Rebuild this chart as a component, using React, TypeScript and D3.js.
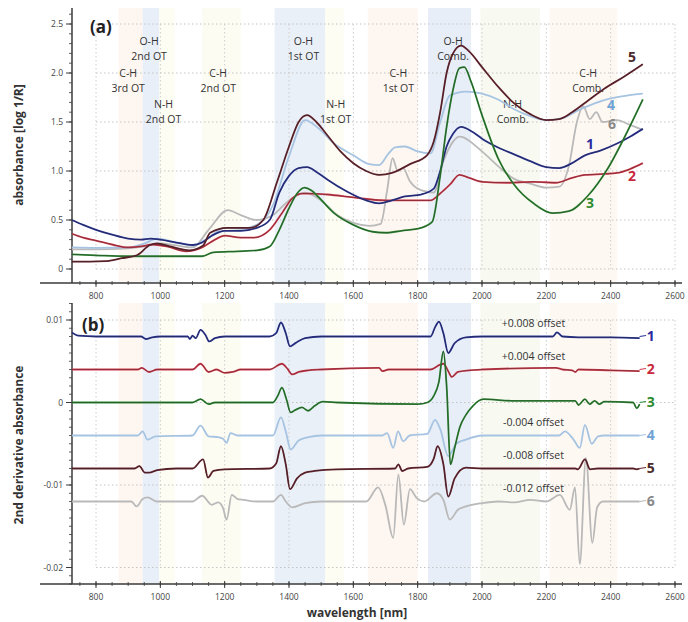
import React from "react";
import * as d3 from "d3";

// NIR spectra (absorbance, log 1/R)
const spec1 = [[725,0.5],[760,0.45],[800,0.4],[850,0.35],[900,0.31],[940,0.3],[970,0.31],[1000,0.3],[1050,0.27],[1100,0.245],[1130,0.27],[1160,0.34],[1200,0.39],[1250,0.39],[1300,0.42],[1340,0.5],[1370,0.78],[1400,0.95],[1430,1.03],[1456,1.04],[1490,0.98],[1520,0.91],[1580,0.79],[1640,0.7],[1680,0.67],[1720,0.7],[1760,0.74],[1810,0.76],[1850,0.82],[1870,1.0],[1890,1.25],[1910,1.38],[1935,1.45],[1970,1.4],[2000,1.33],[2050,1.24],[2100,1.17],[2150,1.1],[2200,1.04],[2240,1.03],[2280,1.08],[2320,1.16],[2370,1.21],[2420,1.28],[2460,1.35],[2500,1.43]];
const spec2 = [[725,0.36],[760,0.32],[800,0.29],[850,0.25],[900,0.22],[940,0.23],[975,0.25],[1020,0.23],[1080,0.18],[1130,0.22],[1170,0.3],[1200,0.34],[1250,0.32],[1290,0.32],[1340,0.4],[1380,0.58],[1410,0.72],[1440,0.77],[1470,0.77],[1520,0.76],[1600,0.73],[1700,0.7],[1800,0.7],[1840,0.7],[1870,0.77],[1900,0.86],[1930,0.96],[1960,0.93],[2000,0.89],[2080,0.88],[2160,0.89],[2230,0.88],[2280,0.93],[2320,0.96],[2380,0.97],[2420,0.98],[2460,1.02],[2500,1.08]];
const spec3 = [[725,0.15],[800,0.14],[900,0.13],[1000,0.13],[1130,0.13],[1165,0.17],[1240,0.18],[1300,0.19],[1340,0.23],[1370,0.4],[1400,0.62],[1425,0.77],[1448,0.83],[1470,0.8],[1490,0.74],[1540,0.57],[1600,0.45],[1660,0.38],[1700,0.37],[1750,0.39],[1810,0.42],[1845,0.48],[1870,0.95],[1890,1.45],[1910,1.83],[1930,2.05],[1945,2.06],[1965,1.92],[2000,1.57],[2050,1.13],[2100,0.86],[2160,0.67],[2220,0.57],[2270,0.59],[2330,0.75],[2390,1.02],[2450,1.39],[2500,1.73]];
const spec4 = [[725,0.22],[800,0.215],[900,0.22],[950,0.26],[990,0.31],[1050,0.27],[1100,0.24],[1150,0.32],[1200,0.42],[1250,0.41],[1300,0.45],[1350,0.65],[1400,1.15],[1450,1.52],[1490,1.44],[1540,1.28],[1600,1.16],[1650,1.07],[1680,1.06],[1710,1.18],[1730,1.24],[1760,1.25],[1800,1.2],[1840,1.18],[1870,1.5],[1900,1.77],[1950,1.81],[2000,1.79],[2050,1.73],[2100,1.63],[2150,1.56],[2200,1.52],[2250,1.54],[2300,1.62],[2350,1.69],[2400,1.74],[2450,1.77],[2500,1.79]];
const spec5 = [[725,0.075],[780,0.075],[830,0.08],[880,0.11],[927,0.14],[968,0.245],[990,0.26],[1030,0.23],[1090,0.19],[1133,0.24],[1155,0.37],[1208,0.42],[1280,0.42],[1320,0.5],[1362,0.88],[1400,1.25],[1430,1.5],[1456,1.57],[1485,1.5],[1518,1.37],[1560,1.2],[1600,1.08],[1640,1.0],[1680,0.96],[1720,0.98],[1776,1.07],[1829,1.16],[1850,1.3],[1870,1.6],[1890,2.0],[1910,2.2],[1935,2.28],[1960,2.22],[2000,2.06],[2050,1.86],[2100,1.69],[2150,1.58],[2200,1.52],[2240,1.53],[2280,1.6],[2330,1.72],[2380,1.84],[2440,1.96],[2500,2.09]];
const spec6 = [[725,0.2],[800,0.2],[900,0.21],[950,0.23],[1000,0.26],[1050,0.24],[1100,0.22],[1150,0.4],[1210,0.6],[1250,0.55],[1300,0.5],[1350,0.55],[1400,0.7],[1450,0.78],[1500,0.7],[1550,0.55],[1600,0.47],[1650,0.44],[1685,0.46],[1705,0.8],[1722,1.13],[1738,1.0],[1755,1.03],[1775,0.9],[1800,0.82],[1850,0.78],[1880,1.1],[1910,1.3],[1930,1.35],[2000,1.2],[2050,1.05],[2100,0.92],[2150,0.87],[2200,0.83],[2240,0.84],[2270,1.05],[2295,1.5],[2315,1.66],[2335,1.53],[2355,1.6],[2375,1.5],[2420,1.52],[2460,1.47],[2500,1.42]];

// 2nd derivative spectra (before offset)
const der1 = [[725,0.0005],[745,0.0001],[800,0],[940,0],[955,-0.0003],[975,-0.0001],[1000,0],[1085,0],[1092,-0.0003],[1100,0.0001],[1110,-0.0002],[1125,0.0008],[1140,0.0002],[1152,-0.0006],[1170,-0.0002],[1200,0],[1340,0],[1360,0.0004],[1375,0.0017],[1390,0.0004],[1403,-0.0012],[1420,-0.0008],[1450,-0.0002],[1500,0],[1840,0],[1855,0.0012],[1866,0.0018],[1880,0.0004],[1895,-0.002],[1915,-0.0008],[1950,-0.0001],[2000,0],[2220,0],[2233,0.0005],[2250,0],[2300,-0.0001],[2400,-0.0001],[2490,-0.0002]];
const der2 = [[725,0],[930,0],[942,0.0002],[965,-0.0003],[990,0],[1100,0],[1125,0.0007],[1150,-0.0003],[1175,0],[1200,-0.0004],[1225,-0.0003],[1250,0],[1340,0],[1378,0.0007],[1395,0.0001],[1410,-0.0006],[1430,-0.0003],[1460,-0.0001],[1500,0],[1680,0.0002],[1690,-0.0002],[1710,0],[1840,0],[1870,0.0006],[1880,0.0007],[1895,-0.0002],[1906,-0.0009],[1925,-0.0003],[1960,-0.0001],[2000,0],[2230,0.0002],[2250,0],[2280,-0.0001],[2290,-0.0003],[2300,0],[2400,-0.0001],[2490,-0.0002]];
const der3 = [[725,0],[1100,0],[1125,0.0004],[1150,-0.0002],[1170,0],[1350,0],[1365,0.0008],[1378,0.0018],[1392,0.0004],[1405,-0.0012],[1420,-0.0009],[1440,-0.0006],[1460,-0.001],[1480,-0.0004],[1505,0.0001],[1550,0],[1800,-0.0002],[1830,0],[1850,0.0008],[1866,0.0025],[1880,0.0062],[1890,0.002],[1902,-0.0075],[1915,-0.0055],[1931,-0.003],[1950,-0.0015],[1972,-0.0004],[2004,0.0004],[2100,0.0002],[2290,0.0002],[2300,-0.0003],[2320,0.0004],[2335,-0.0002],[2350,0.0002],[2365,-0.0002],[2380,0.0001],[2470,0],[2481,-0.0007],[2490,-0.0002]];
const der4 = [[725,0],[930,0],[945,0.0005],[960,-0.0005],[985,-0.0001],[1100,0],[1125,0.0012],[1150,-0.0001],[1180,-0.0002],[1195,-0.0004],[1206,-0.0009],[1218,0.0003],[1240,0],[1350,0],[1375,0.0022],[1390,0.0005],[1405,-0.0017],[1430,-0.0006],[1460,-0.0002],[1500,0],[1690,0],[1705,0.0003],[1724,-0.0015],[1739,0.0005],[1755,-0.0007],[1775,0],[1830,0.0002],[1854,0.0019],[1870,0.0008],[1895,-0.0025],[1920,-0.001],[1950,-0.0005],[2000,0],[2240,0],[2258,0.0005],[2283,-0.0004],[2304,-0.0015],[2320,0.0013],[2341,-0.001],[2361,-0.0001],[2380,0],[2490,0]];
const der5 = [[725,0],[920,0],[935,0.0003],[952,-0.0005],[965,-0.0005],[990,-0.0002],[1050,0],[1100,0],[1133,0.0011],[1148,-0.0011],[1165,-0.0003],[1200,-0.0001],[1340,0],[1360,0.0006],[1375,0.0027],[1390,0.0005],[1403,-0.0025],[1425,-0.0012],[1450,-0.0005],[1480,-0.0003],[1550,-0.0001],[1730,0],[1740,0.0005],[1752,-0.0003],[1770,0],[1830,0.0002],[1850,0.0012],[1862,0.0027],[1880,0.0005],[1895,-0.0034],[1915,-0.0012],[1950,0.0001],[2000,0],[2290,0],[2298,-0.0001],[2320,0.0011],[2336,-0.0001],[2360,0],[2470,0],[2480,-0.0001],[2490,0]];
const der6 = [[725,0],[910,0],[926,-0.0006],[945,0.0003],[960,0.0005],[990,0],[1100,0],[1130,0.0007],[1160,-0.0004],[1180,-0.0001],[1195,-0.0008],[1206,-0.0022],[1222,0.0008],[1240,0.0003],[1260,0.0002],[1300,0],[1350,0],[1375,0.0008],[1390,0],[1410,-0.0007],[1450,-0.0002],[1500,0],[1640,0],[1677,0.0017],[1700,-0.0005],[1724,-0.0044],[1740,0.0033],[1757,-0.0028],[1776,0.0015],[1797,0.0004],[1820,0],[1860,0.001],[1880,0.0002],[1900,-0.0022],[1925,-0.001],[1950,-0.0006],[2000,-0.0002],[2050,0],[2100,-0.0001],[2150,0.0002],[2200,0],[2242,0.0008],[2273,-0.001],[2289,0.0017],[2304,-0.0076],[2323,0.0053],[2343,-0.005],[2358,-0.0007],[2376,0],[2490,0]];

const offsets = [0.008, 0.004, 0, -0.004, -0.008, -0.012];
const offsetLabels = ["+0.008 offset", "+0.004 offset", "", "-0.004 offset", "-0.008 offset", "-0.012 offset"];
const seriesNames = ["1", "2", "3", "4", "5", "6"];
const colors = ["#2b3597", "#d33a4c", "#2f8a34", "#a6c4e2", "#6a2530", "#b9b9b9"];
const labelColors = ["#2b2b9e", "#c8283c", "#2e8b2e", "#6fa3d6", "#4a2a2a", "#8a8a8a"];
const darkCore = [true, true, true, false, true, false];

// absorption bands [from nm, to nm, fill]
const bands = [
  [870, 945, "#fef6f0"], [945, 997, "#e9eff8"], [997, 1045, "#fdfdf3"],
  [1130, 1250, "#fdfcf3"], [1355, 1512, "#eaf0f8"], [1512, 1570, "#fdfdf3"],
  [1645, 1800, "#fef6f0"], [1832, 1966, "#e8eef7"], [1995, 2180, "#f8faf1"],
  [2210, 2420, "#fef8f3"],
];

// band annotations: [nm, line1, line2, y]
const notes = [
  [965, "O-H", "2nd OT", 45], [900, "C-H", "3rd OT", 77], [1010, "N-H", "2nd OT", 108],
  [1180, "C-H", "2nd OT", 77], [1445, "O-H", "1st OT", 45], [1545, "N-H", "1st OT", 108],
  [1740, "C-H", "1st OT", 77], [1910, "O-H", "Comb.", 45], [2095, "N-H", "Comb.", 108],
  [2330, "C-H", "Comb.", 77],
];

const topLabelPos = [[2336, 1.28], [2466, 0.95], [2336, 0.67], [2401, 1.67], [2466, 2.16], [2404, 1.48]];

const xTicks = d3.range(800, 2601, 200);
const topTicks = [0, 0.5, 1.0, 1.5, 2.0, 2.5];
const topTickLabels = ["0", "0.5", "1.0", "1.5", "2.0", "2.5"];
const botTicks = [-0.02, -0.01, 0, 0.01];
const botTickLabels = ["-0.02", "-0.01", "0", "0.01"];

const W = 688, H = 622;
const x = d3.scaleLinear().domain([800, 2600]).range([96, 675]);
const yTop = d3.scaleLinear().domain([0, 2.5]).range([269, 24]);
const yBot = d3.scaleLinear().domain([-0.02, 0.01]).range([567.5, 320]);

const font = "'Open Sans', 'Liberation Sans', sans-serif";
const axisCol = "#3a3a3a";

function Panel({ y, top, bottom, ticks, tickLabels, minor, axisTop }) {
  const minorTicks = d3.range(minor[0], minor[1] + minor[2] / 2, minor[2]);
  const xMinor = d3.range(750, 2626, 50);
  return (
    <g>
      {bands.map((b, i) => (
        <rect key={i} x={x(b[0])} y={top} width={x(b[1]) - x(b[0])} height={bottom - top} fill={b[2]} />
      ))}
      {ticks.map((t, i) => (
        <line key={"h" + i} x1={x(800)} x2={x(2600)} y1={y(t)} y2={y(t)} stroke="#c4c4c4" strokeDasharray="1.5,2.5" />
      ))}
      {xTicks.map((t) => (
        <line key={"v" + t} x1={x(t)} x2={x(t)} y1={y(ticks[ticks.length - 1])} y2={y(ticks[0])} stroke="#cccccc" strokeDasharray="1.5,2.5" />
      ))}
      {/* y axis */}
      <line x1={72} x2={72} y1={axisTop} y2={bottom} stroke={axisCol} strokeWidth={1.5} />
      {minorTicks.map((t, i) => (
        <line key={"ym" + i} x1={69} x2={72} y1={y(t)} y2={y(t)} stroke={axisCol} strokeWidth={0.8} />
      ))}
      {ticks.map((t, i) => (
        <g key={"yt" + i}>
          <line x1={66} x2={72} y1={y(t)} y2={y(t)} stroke={axisCol} strokeWidth={1} />
          <text x={63} y={y(t) + 3} textAnchor="end" fontSize={8.5} fill="#444" fontFamily={font}>{tickLabels[i]}</text>
        </g>
      ))}
      {/* x axis */}
      <line x1={40} x2={682} y1={bottom} y2={bottom} stroke={axisCol} strokeWidth={1.5} />
      {xMinor.map((t) => (
        <line key={"xm" + t} x1={x(t)} x2={x(t)} y1={bottom - 2} y2={bottom + 2} stroke={axisCol} strokeWidth={0.8} />
      ))}
      {xTicks.map((t) => (
        <g key={"xt" + t}>
          <line x1={x(t)} x2={x(t)} y1={bottom - 3} y2={bottom + 4} stroke={axisCol} strokeWidth={1} />
          <text x={x(t)} y={bottom + 16} textAnchor="middle" fontSize={8.5} fill="#444" fontFamily={font}>{t}</text>
        </g>
      ))}
    </g>
  );
}

function Spectrum({ pts, yScale, color, core, shift = 0 }) {
  const line = d3.line().x((d) => x(d[0])).y((d) => yScale(d[1] + shift)).curve(d3.curveMonotoneX);
  const d = line(pts);
  return (
    <g fill="none">
      <path d={d} stroke={color} strokeWidth={1.8} />
      {core && <path d={d} stroke="#1a1a1a" strokeWidth={0.7} strokeOpacity={0.55} />}
    </g>
  );
}

export default function App() {
  const specs = [spec1, spec2, spec3, spec4, spec5, spec6];
  const ders = [der1, der2, der3, der4, der5, der6];
  const topOrder = [5, 3, 1, 0, 2, 4];
  return (
    <svg width={W} height={H} style={{ position: "absolute", left: 0, top: 0, background: "#fff" }} fontFamily={font}>
      <rect width={W} height={H} fill="#fff" />
      <Panel y={yTop} top={8} bottom={283} ticks={topTicks} tickLabels={topTickLabels} minor={[0, 2.6, 0.1]} axisTop={8} />
      <Panel y={yBot} top={303} bottom={584} ticks={botTicks} tickLabels={botTickLabels} minor={[-0.022, 0.012, 0.001]} axisTop={303} />

      {notes.map((n, i) => (
        <g key={i} fontSize={10.5} fill="#333" textAnchor="middle">
          <text x={x(n[0])} y={n[3]}>{n[1]}</text>
          <text x={x(n[0])} y={n[3] + 15}>{n[2]}</text>
        </g>
      ))}

      {topOrder.map((i) => (
        <Spectrum key={"s" + i} pts={specs[i]} yScale={yTop} color={colors[i]} core={darkCore[i]} />
      ))}
      {seriesNames.map((s, i) => (
        <text key={"tl" + i} x={x(topLabelPos[i][0])} y={yTop(topLabelPos[i][1]) + 5} fontSize={14} fontWeight={700} fill={labelColors[i]} textAnchor="middle">{s}</text>
      ))}

      {[5, 3, 4, 0, 1, 2].map((i) => (
        <Spectrum key={"d" + i} pts={ders[i]} yScale={yBot} color={colors[i]} core={darkCore[i]} shift={offsets[i]} />
      ))}
      {seriesNames.map((s, i) => (
        <g key={"bl" + i}>
          <line x1={x(2490)} x2={x(2510)} y1={yBot(offsets[i])} y2={yBot(offsets[i]) - 1} stroke={colors[i]} strokeWidth={1.2} />
          <text x={x(2512)} y={yBot(offsets[i]) + 4} fontSize={14} fontWeight={700} fill={labelColors[i]}>{s}</text>
          {offsetLabels[i] && (
            <text x={x(2160)} y={yBot(offsets[i] + 0.0012)} fontSize={10.5} fill="#333" textAnchor="middle">{offsetLabels[i]}</text>
          )}
        </g>
      ))}

      <text x={90} y={33} fontSize={17} fontWeight={700} fill="#222">(a)</text>
      <text x={82} y={331} fontSize={17} fontWeight={700} fill="#222">(b)</text>
      <text transform="translate(23,145) rotate(-90)" textAnchor="middle" fontSize={12} fontWeight={700} fill="#333">absorbance [log 1/R]</text>
      <text transform="translate(23,445) rotate(-90)" textAnchor="middle" fontSize={12} fontWeight={700} fill="#333">2nd derivative absorbance</text>
      <text x={357} y={617} textAnchor="middle" fontSize={12} fontWeight={700} fill="#333">wavelength [nm]</text>
    </svg>
  );
}
